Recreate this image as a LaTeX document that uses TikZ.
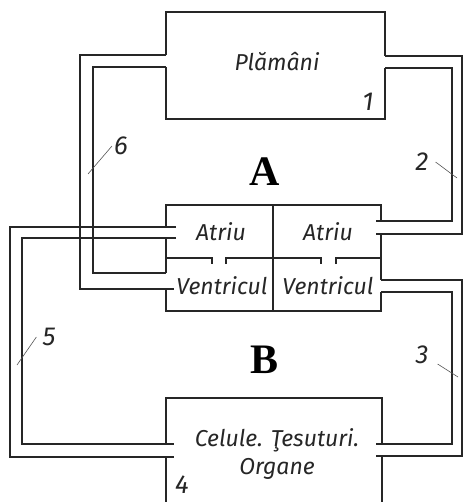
\documentclass[tikz,border=0pt]{standalone}
\usepackage{fontspec}
\setsansfont{Fira Sans}
\newfontfamily\serifbold{Liberation Serif}
\usepackage{xcolor}
\definecolor{wallgray}{HTML}{262626}
\definecolor{tickgray}{HTML}{555555}
\tikzset{
  wall/.style={line width=1.2pt, draw=wallgray},
  organ/.style={font=\sffamily\itshape\fontsize{23}{28}\selectfont, text=wallgray, align=center, inner sep=0pt},
  num/.style={font=\sffamily\itshape\fontsize{26}{28}\selectfont, text=wallgray, inner sep=0pt},
  circ/.style={font=\serifbold\bfseries\fontsize{42}{44}\selectfont, inner sep=0pt},
  tick/.style={line width=0.6pt, draw=tickgray}
}

\begin{document}
\begin{tikzpicture}[x=1pt,y=-1pt]
    \useasboundingbox (0,0) rectangle (463,502);

    % Lungs
    \draw[wall] (166,55) -- (166,12) -- (385,12) -- (385,56);
    \draw[wall] (166,67) -- (166,119) -- (385,119) -- (385,68);
    \node[organ] (lung) at (277,62) {Plămâni};
    \node[num] (n1) at (368,102) {1};

    % Heart
    \draw[wall] (166,227) -- (166,205) -- (381,205) -- (381,221);
    \draw[wall] (166,238) -- (166,273);
    \draw[wall] (381,234) -- (381,280);
    \draw[wall] (166,289) -- (166,311) -- (381,311) -- (381,292);
    \draw[wall] (273,205) -- (273,311);
    % valves
    \draw[wall] (166,258) -- (212,258) -- (212,264);
    \draw[wall] (226,264) -- (226,258) -- (321,258) -- (321,264);
    \draw[wall] (336,264) -- (336,258) -- (381,258);
    \node[organ] (al) at (221,232) {Atriu};
    \node[organ] (ar) at (328,232) {Atriu};
    \node[organ] (vl) at (222,286) {Ventricul};
    \node[organ] (vr) at (328,286) {Ventricul};

    % Organs
    \draw[wall] (166,444) -- (166,398) -- (382,398) -- (382,444);
    \draw[wall] (166,457) -- (166,503);
    \draw[wall] (382,457) -- (382,503);
    \node[organ] (body) at (277,454) {Celule. Ţesuturi.\\Organe};
    \node[num] (n4) at (182,485) {4};

    % Vessels, left
    \draw[wall] (166,55) -- (80,55) -- (80,289) -- (174,289);
    \draw[wall] (166,67) -- (93,67) -- (93,273) -- (166,273);
    \draw[wall] (176,227) -- (10,227) -- (10,457) -- (174,457);
    \draw[wall] (176,238) -- (22,238) -- (22,444) -- (174,444);

    % Vessels, right
    \draw[wall] (385,56) -- (462,56) -- (462,234) -- (376,234);
    \draw[wall] (385,68) -- (452,68) -- (452,221) -- (376,221);
    \draw[wall] (381,280) -- (462,280) -- (462,456) -- (376,456);
    \draw[wall] (381,292) -- (452,292) -- (452,444) -- (376,444);

    % Circulations
    \node[circ] (A) at (265,172) {A};
    \node[circ] (B) at (265,360) {B};

    % Numbers
    \node[num] (n6) at (121,146) {6};
    \node[num] (n2) at (422,162) {2};
    \node[num] (n5) at (49,337) {5};
    \node[num] (n3) at (422,355) {3};
    \coordinate (t6) at (88,174);
    \coordinate (t2) at (457,178);
    \coordinate (t5) at (17,365);
    \coordinate (t3) at (458,377);
    \draw[tick] (n6.west) ++(-2,0) -- (t6);
    \draw[tick] (n2.east) ++(7,0) -- (t2);
    \draw[tick] (n5.west) ++(-6,0) -- (t5);
    \draw[tick] (n3.east) ++(9,9) -- (t3);
\end{tikzpicture}
\end{document}
